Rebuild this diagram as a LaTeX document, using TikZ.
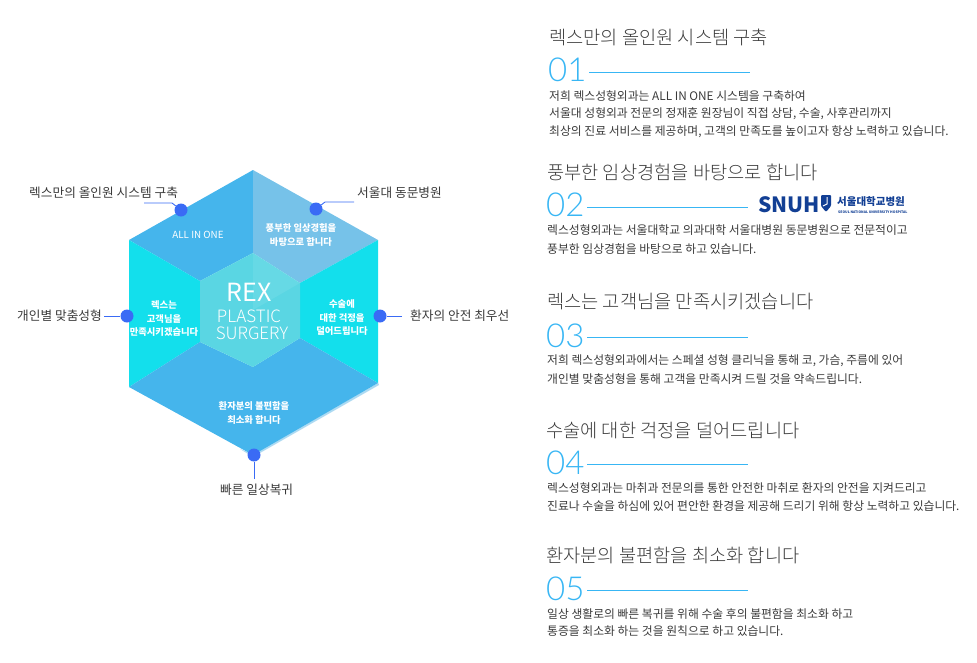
\documentclass[tikz,border=0pt]{standalone}
\usepackage{fontspec}
\setmainfont{Noto Sans CJK KR}
\newfontfamily\krlight{Noto Sans CJK KR Light}
\newfontfamily\numfont{Lato Light}
\definecolor{txt}{HTML}{3A3A3A}
\definecolor{ttl}{HTML}{3C3C3C}
\definecolor{numc}{HTML}{38B6F4}
\definecolor{blueA}{HTML}{45B5EC}
\definecolor{blueB}{HTML}{76C2E9}
\definecolor{cyanA}{HTML}{13DFEC}
\definecolor{coreA}{HTML}{5AD6E3}
\definecolor{dotc}{HTML}{3A6BF5}
\definecolor{snu}{HTML}{123F94}
\tikzset{
 ttlnode/.style={anchor=west,inner sep=0,text=ttl,font=\krlight\fontsize{18.7}{20}\selectfont},
 numnode/.style={anchor=west,inner sep=0,text=numc,font=\numfont\fontsize{33}{35}\selectfont},
 bodynode/.style={anchor=west,inner sep=0,text=txt,font=\fontsize{11.8}{13}\selectfont},
 lbl/.style={inner sep=0,text=txt,font=\fontsize{12.7}{14}\selectfont},
 hextxt/.style={inner sep=0,text=white,align=center,font=\bfseries\fontsize{9.3}{13.5}\selectfont},
 dotn/.style={circle,fill=dotc,minimum size=13pt,inner sep=0},
 conn/.style={draw=numc,line width=0.8pt},
 lead/.style={draw=dotc,line width=0.9pt}
}
\begin{document}
\begin{tikzpicture}[x=1pt,y=-1pt]
\useasboundingbox (0,0) rectangle (977,662);
% hexagon
\fill[blueA] (253,170)--(129,240)--(200,281)--(253,253)--cycle;
\fill[blueB] (253,170)--(378,240)--(300,283)--(253,253)--cycle;
\fill[cyanA] (129,240)--(129,387)--(200,342)--(200,281)--cycle;
\fill[cyanA] (378,240)--(378,383)--(300,338)--(300,283)--cycle;
\fill[blueB!60] (240,449)--(253,457)--(379,385)--(378,383)--(253,454)--cycle;
\fill[blueA] (129,387)--(200,342)--(253,367)--(300,338)--(378,383)--(253,455)--cycle;
\fill[coreA] (253,253)--(300,283)--(300,338)--(253,367)--(200,342)--(200,281)--cycle;
\fill[white,opacity=.08] (253,253)--(300,283)--(253,310)--cycle;
\node[inner sep=0,text=white,font=\fontsize{25}{27}\selectfont] (rex) at (249,292) {REX};
\node[inner sep=0,text=white,font=\krlight\fontsize{17}{19}\selectfont] (pl) at (249,316) {PLASTIC};
\node[inner sep=0,text=white,font=\krlight\fontsize{17}{19}\selectfont] (sg) at (252,333) {SURGERY};
\node[hextxt,font=\fontsize{9.8}{13.5}\selectfont] (h1) at (198,235) {ALL IN ONE};
\node[hextxt] (h2) at (301,235) {풍부한 임상경험을\\바탕으로 합니다};
\node[hextxt] (h3) at (164,319) {렉스는\\고객님을\\만족시키겠습니다};
\node[hextxt] (h4) at (342,318) {수술에\\대한 걱정을\\덜어드립니다};
\node[hextxt] (h5) at (254,413) {환자분의 불편함을\\최소화 합니다};
% dots
\node[dotn] (d1) at (181,210) {};
\node[dotn] (d2) at (316,209) {};
\node[dotn] (d3) at (127,316) {};
\node[dotn] (d4) at (380,316) {};
\node[dotn] (d5) at (254,455) {};
\coordinate (e1) at (144,203);\coordinate (b1) at (172,203);
\coordinate (e2) at (354,202);\coordinate (b2) at (325,202);
\coordinate (e3) at (104,316);\coordinate (e4) at (402,316);\coordinate (e5) at (254,479);
\draw[lead] (e1)--(b1)--(d1);
\draw[lead] (e2)--(b2)--(d2);
\draw[lead] (e3)--(d3);
\draw[lead] (e4)--(d4);
\draw[lead] (e5)--(d5);
\node[lbl,anchor=west] (l1) at (29,193) {렉스만의 올인원 시스템 구축};
\node[lbl,anchor=west] (l2) at (357,193) {서울대 동문병원};
\node[lbl,anchor=west] (l3) at (17,316) {개인별 맞춤성형};
\node[lbl,anchor=west] (l4) at (410,316) {환자의 안전 최우선};
\node[lbl,anchor=west] (l5) at (220,490) {빠른 일상복귀};
% right column
\node[ttlnode] (t1) at (549,37) {렉스만의 올인원 시스템 구축};
\node[numnode] (n1) at (548,70) {01};
\coordinate (a1) at (589,72);\coordinate (z1) at (750,72);
\draw[conn] (a1)--(z1);
\node[bodynode] at (549,96) {저희 렉스성형외과는 ALL IN ONE 시스템을 구축하여};
\node[bodynode] at (549,114) {서울대 성형외과 전문의 정재훈 원장님이 직접 상담, 수술, 사후관리까지};
\node[bodynode] at (549,132) {최상의 진료 서비스를 제공하며, 고객의 만족도를 높이고자 항상 노력하고 있습니다.};

\node[ttlnode] (t2) at (547,172) {풍부한 임상경험을 바탕으로 합니다};
\node[numnode] (n2) at (546,205) {02};
\coordinate (a2) at (587,207);\coordinate (z2) at (748,207);
\draw[conn] (a2)--(z2);
\node[anchor=west,inner sep=0,text=snu,font=\bfseries\fontsize{21}{23}\selectfont] (snuh) at (758,205) {SNUH};
\fill[snu,rounded corners=1pt] (821,195)--(831,195)--(831,206)--(826,212)--(821,206)--cycle;
\draw[white,line width=1pt] (827,197)--(827,204)--(823,206);
\node[anchor=west,inner sep=0,text=snu,font=\bfseries\fontsize{10.5}{12}\selectfont] (snuk) at (837,202) {서울대학교병원};
\node[anchor=west,inner sep=0,text=snu,font=\bfseries\fontsize{3.4}{4}\selectfont] (snue) at (838,212) {SEOUL NATIONAL UNIVERSITY HOSPITAL};
\node[bodynode] at (547,230) {렉스성형외과는 서울대학교 의과대학 서울대병원 동문병원으로 전문적이고};
\node[bodynode] at (547,249) {풍부한 임상경험을 바탕으로 하고 있습니다.};

\node[ttlnode] (t3) at (547,302) {렉스는 고객님을 만족시키겠습니다};
\node[numnode] (n3) at (546,336) {03};
\coordinate (a3) at (587,337);\coordinate (z3) at (748,337);
\draw[conn] (a3)--(z3);
\node[bodynode] at (547,361) {저희 렉스성형외과에서는 스페셜 성형 클리닉을 통해 코, 가슴, 주름에 있어};
\node[bodynode] at (547,379) {개인별 맞춤성형을 통해 고객을 만족시켜 드릴 것을 약속드립니다.};

\node[ttlnode] (t4) at (546,430) {수술에 대한 걱정을 덜어드립니다};
\node[numnode] (n4) at (546,463) {04};
\coordinate (a4) at (587,464);\coordinate (z4) at (748,464);
\draw[conn] (a4)--(z4);
\node[bodynode] at (547,488) {렉스성형외과는 마취과 전문의를 통한 안전한 마취로 환자의 안전을 지켜드리고};
\node[bodynode] at (547,506) {진료나 수술을 하심에 있어 편안한 환경을 제공해 드리기 위해 항상 노력하고 있습니다.};

\node[ttlnode] (t5) at (546,555) {환자분의 불편함을 최소화 합니다};
\node[numnode] (n5) at (546,589) {05};
\coordinate (a5) at (587,590);\coordinate (z5) at (748,590);
\draw[conn] (a5)--(z5);
\node[bodynode] at (547,614) {일상 생활로의 빠른 복귀를 위해 수술 후의 불편함을 최소화 하고};
\node[bodynode] at (547,631) {통증을 최소화 하는 것을 원칙으로 하고 있습니다.};
\end{tikzpicture}
\end{document}
